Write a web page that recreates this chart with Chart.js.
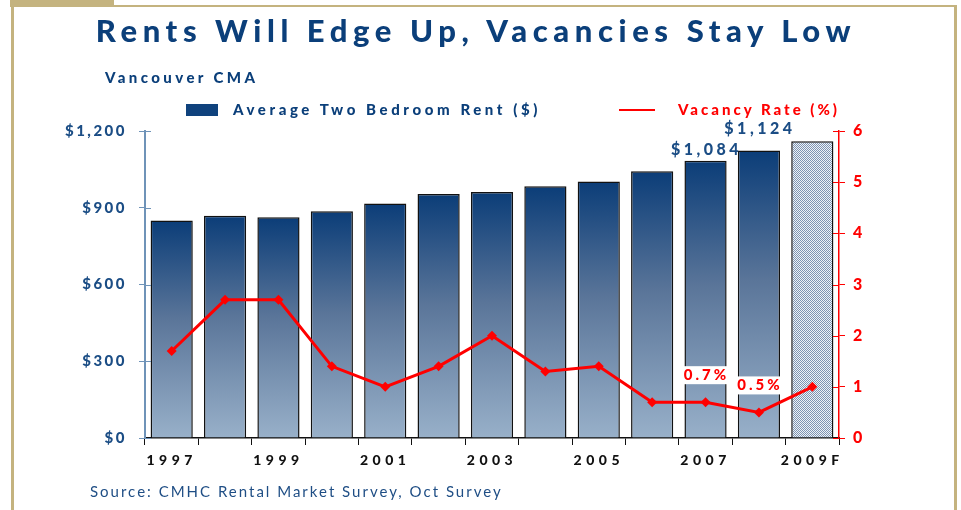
<!DOCTYPE html>
<html>
<head>
<meta charset="utf-8">
<script src="https://cdn.jsdelivr.net/npm/chart.js@4/dist/chart.umd.min.js"></script>
<style>
  html, body { margin: 0; padding: 0; background: #fff; }
  body { width: 961px; height: 510px; position: relative; overflow: hidden; font-family: Lato, "DejaVu Sans", sans-serif; }
  #wrap { position: absolute; left: 0; top: 0; width: 961px; height: 510px; }
  .gold { position: absolute; background: #c4b37f; }
  .txt { position: absolute; white-space: nowrap; font-weight: 900; }
  #title { left: 0; width: 952px; text-align: center; top: 11px; font-size: 31px; letter-spacing: 5.6px; color: #0b3f7a; }
  #sub { left: 105px; top: 68px; font-size: 15px; letter-spacing: 3.4px; color: #0b3f7a; }
  #lgBox { position: absolute; left: 186px; top: 104px; width: 32px; height: 12px; background: #0f427d; }
  #lgRent { left: 233px; top: 100px; font-size: 15px; letter-spacing: 3.6px; color: #0b3f7a; }
  #lgLine { position: absolute; left: 619px; top: 109px; width: 36px; height: 2px; background: #ff0000; }
  #lgVac { left: 678px; top: 100px; font-size: 15px; letter-spacing: 3px; color: #ff0000; }
  #src { left: 90px; top: 482px; font-size: 15px; font-weight: normal; letter-spacing: 2px; color: #1f4e85; }
</style>
</head>
<body>
<div class="gold" style="left:10px;top:0;width:104px;height:7px"></div>
<div class="gold" style="left:10px;top:5px;width:947px;height:2px"></div>
<div class="gold" style="left:11px;top:0;width:3px;height:510px"></div>
<div class="gold" style="left:954px;top:5px;width:3px;height:505px"></div>
<div id="wrap"><canvas id="chart" width="961" height="510"></canvas></div>
<div class="txt" id="title">Rents Will Edge Up, Vacancies Stay Low</div>
<div class="txt" id="sub">Vancouver CMA</div>
<div id="lgBox"></div>
<div class="txt" id="lgRent">Average Two Bedroom Rent ($)</div>
<div id="lgLine"></div>
<div class="txt" id="lgVac">Vacancy Rate (%)</div>
<div class="txt" id="src">Source: CMHC Rental Market Survey, Oct Survey</div>
<script>
const years = ['1997', '1998', '1999', '2000', '2001', '2002', '2003', '2004', '2005', '2006', '2007', '2008', '2009F'];
const rent = [850, 869, 863, 886, 917, 954, 962, 984, 1003, 1043, 1084, 1124, 1160];
const vacancy = [1.7, 2.7, 2.7, 1.4, 1.0, 1.4, 2.0, 1.3, 1.4, 0.7, 0.7, 0.5, 1.0];
const rentTicks = [0, 300, 600, 900, 1200];
const vacTicks = [0, 1, 2, 3, 4, 5, 6];
const rentNotes = ['', '', '', '', '', '', '', '', '', '', '$1,084', '$1,124', ''];
const vacNotes = ['', '', '', '', '', '', '', '', '', '', '0.7%', '0.5%', ''];
const forecastIdx = years.indexOf('2009F');

const NAVY = '#0b3f7a';
const RED = '#ff0000';
const FONT = 'Lato, "DejaVu Sans", sans-serif';

// stipple pattern for the forecast bar
const pc = document.createElement('canvas');
pc.width = 2; pc.height = 2;
const pctx = pc.getContext('2d');
pctx.fillStyle = '#eef2f7'; pctx.fillRect(0, 0, 2, 2);
pctx.fillStyle = '#7d94b2'; pctx.fillRect(0, 0, 1, 1); pctx.fillRect(1, 1, 1, 1);
const stipple = pctx.createPattern(pc, 'repeat');

function barFill(c) {
    if (c.dataIndex === forecastIdx) return stipple;
    const chart = c.chart;
    if (!chart.chartArea) return '#4a6a94';
    const y = chart.scales.y;
    const top = y.getPixelForValue(rent[c.dataIndex]);
    const bot = y.getPixelForValue(0);
    const g = chart.ctx.createLinearGradient(0, top, 0, bot);
    g.addColorStop(0, '#0b3d78');
    g.addColorStop(0.45, '#5a7599');
    g.addColorStop(1, '#98b0c9');
    return g;
}

// per-axis letter spacing for tick labels
const spacingPlugin = {
    id: 'spacing',
    beforeDraw(chart) {
        const sp = { x: '4.5px', y: '2.5px', y1: '1px' };
        Object.keys(sp).forEach(k => {
            const s = chart.scales[k];
            if (!s || s._spaced) return;
            const orig = s.drawLabels.bind(s);
            s.drawLabels = function (area) {
                const ctx = this.ctx;
                ctx.save();
                ctx.letterSpacing = sp[k];
                orig(area);
                ctx.restore();
            };
            s._spaced = true;
        });
    }
};

// tick marks crossing into the plot
const innerTicks = {
    id: 'innerTicks',
    afterDraw(chart) {
        const ctx = chart.ctx;
        const a = chart.chartArea;
        ctx.save();
        ctx.lineWidth = 1;
        ctx.strokeStyle = '#6f93b8';
        rentTicks.forEach(v => {
            const py = Math.round(chart.scales.y.getPixelForValue(v)) + 0.5;
            ctx.beginPath(); ctx.moveTo(a.left, py); ctx.lineTo(a.left + 6, py); ctx.stroke();
        });
        ctx.strokeStyle = RED;
        vacTicks.forEach(v => {
            const py = Math.round(chart.scales.y1.getPixelForValue(v)) + 0.5;
            ctx.beginPath(); ctx.moveTo(a.right - 6, py); ctx.lineTo(a.right, py); ctx.stroke();
        });
        ctx.restore();
    }
};

const notesPlugin = {
    id: 'notes',
    afterDatasetsDraw(chart) {
        const ctx = chart.ctx;
        const bars = chart.getDatasetMeta(1).data;
        const pts = chart.getDatasetMeta(0).data;
        const rentLift = { 10: 3, 11: 14 };
        const vacLift = { 10: 27, 11: 27 };
        ctx.save();
        ctx.letterSpacing = '3.5px';
        ctx.font = '900 16px ' + FONT;
        ctx.textAlign = 'center';
        ctx.textBaseline = 'bottom';
        ctx.fillStyle = '#1b4d85';
        rentNotes.forEach((t, i) => {
            if (!t) return;
            const b = bars[i];
            ctx.fillText(t, b.x + 1, b.y - (rentLift[i] || 4));
        });
        ctx.font = '900 15px ' + FONT;
        ctx.letterSpacing = '3px';
        ctx.textBaseline = 'middle';
        vacNotes.forEach((t, i) => {
            if (!t) return;
            const p = pts[i];
            const w = ctx.measureText(t).width + 6;
            const cy = p.y - (vacLift[i] || 27);
            ctx.fillStyle = '#fff';
            ctx.fillRect(p.x - w / 2, cy - 9, w, 18);
            ctx.fillStyle = RED;
            ctx.fillText(t, p.x + 1, cy);
        });
        ctx.restore();
    }
};

new Chart(document.getElementById('chart'), {
    data: {
        labels: years,
        datasets: [
            {
                type: 'line',
                label: 'Vacancy Rate (%)',
                data: vacancy,
                yAxisID: 'y1',
                borderColor: RED,
                backgroundColor: RED,
                borderWidth: 3,
                pointStyle: 'rectRot',
                pointRadius: 5,
                pointBorderWidth: 0,
                tension: 0,
                order: 0,
            },
            {
                type: 'bar',
                label: 'Average Two Bedroom Rent ($)',
                data: rent,
                yAxisID: 'y',
                backgroundColor: barFill,
                borderColor: '#111',
                borderWidth: 1.5,
                borderSkipped: 'bottom',
                barPercentage: 0.79,
                categoryPercentage: 1,
                order: 1,
            },
        ],
    },
    options: {
        responsive: false,
        animation: false,
        events: [],
        layout: { padding: { left: 0, right: 82, top: 131, bottom: 37 } },
        plugins: { legend: { display: false }, tooltip: { enabled: false } },
        scales: {
            x: {
                offset: true,
                grid: { offset: true, drawOnChartArea: false, tickLength: 7, color: '#111', lineWidth: 1 },
                border: { color: '#111', width: 1.5 },
                ticks: {
                    autoSkip: false, maxRotation: 0, padding: 7,
                    color: '#111',
                    font: { family: FONT, weight: '900', size: 14 },
                    callback: (v, i) => (i % 2 === 0 ? years[i] : ''),
                },
                afterFit: s => { s.height = 35; },
            },
            y: {
                position: 'left',
                min: 0, max: 1200,
                afterBuildTicks: s => { s.ticks = rentTicks.map(v => ({ value: v })); },
                grid: { drawOnChartArea: false, tickLength: 6, color: '#6f93b8' },
                border: { color: '#6f93b8', width: 2 },
                ticks: {
                    padding: 12,
                    color: '#1b4d85',
                    font: { family: FONT, weight: '900', size: 15 },
                    callback: v => '$' + v.toLocaleString('en-US'),
                },
                afterFit: s => { s.width = 145; },
            },
            y1: {
                position: 'right',
                min: 0, max: 6,
                afterBuildTicks: s => { s.ticks = vacTicks.map(v => ({ value: v })); },
                grid: { drawOnChartArea: false, tickLength: 6, color: RED },
                border: { color: RED, width: 1.5 },
                ticks: {
                    padding: 8,
                    color: RED,
                    font: { family: FONT, weight: '900', size: 16 },
                },
                afterFit: s => { s.width = 40; },
            },
        },
    },
    plugins: [spacingPlugin, innerTicks, notesPlugin],
});
</script>
</body>
</html>
